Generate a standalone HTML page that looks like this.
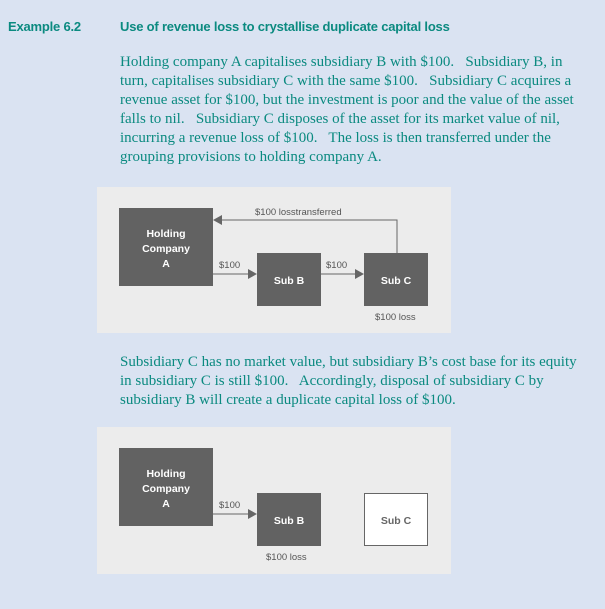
<!DOCTYPE html>
<html><head><meta charset="utf-8"><style>
html,body{margin:0;padding:0;}
body{width:605px;height:609px;background:#dae3f2;position:relative;overflow:hidden;}
.t{position:absolute;color:#0b8a80;}
.h{font-family:"Liberation Sans",sans-serif;font-weight:bold;font-size:13px;letter-spacing:-0.2px;}
.p{font-family:"Liberation Serif",serif;font-size:15px;line-height:19px;left:120px;width:480px;white-space:nowrap;}
svg{position:absolute;left:0;top:0;}
</style></head><body>
<div class="t h" style="left:8px;top:19px;">Example 6.2</div>
<div class="t h" style="left:120px;top:19px;">Use of revenue loss to crystallise duplicate capital loss</div>
<div class="t p" style="top:53px;">Holding company A capitalises subsidiary B with $100.&nbsp;&nbsp; Subsidiary B, in<br>turn, capitalises subsidiary C with the same $100.&nbsp;&nbsp; Subsidiary C acquires a<br>revenue asset for $100, but the investment is poor and the value of the asset<br>falls to nil.&nbsp;&nbsp; Subsidiary C disposes of the asset for its market value of nil,<br>incurring a revenue loss of $100.&nbsp;&nbsp; The loss is then transferred under the<br>grouping provisions to holding company A.</div>
<div class="t p" style="top:353px;">Subsidiary C has no market value, but subsidiary B’s cost base for its equity<br>in subsidiary C is still $100.&nbsp;&nbsp; Accordingly, disposal of subsidiary C by<br>subsidiary B will create a duplicate capital loss of $100.</div>
<svg width="605" height="609" font-family="Liberation Sans, sans-serif" font-size="10">
<rect x="97" y="187" width="354" height="146" fill="#ececec"/>
<rect x="119" y="208" width="94" height="78" fill="#626262"/>
<rect x="257" y="253" width="64" height="53" fill="#626262"/>
<rect x="364" y="253" width="64" height="53" fill="#626262"/>
<g fill="#fff" font-weight="bold" text-anchor="middle" font-size="10.5">
<text x="166" y="237">Holding</text><text x="166" y="252">Company</text><text x="166" y="267">A</text>
<text x="289" y="284">Sub B</text><text x="396" y="284">Sub C</text>
</g>
<g stroke="#666" stroke-width="1" fill="none">
<line x1="213" y1="274" x2="250" y2="274"/>
<line x1="321" y1="274" x2="357" y2="274"/>
<polyline points="397,253 397,220 221,220"/>
</g>
<g fill="#666">
<polygon points="257,274 248,269 248,279"/>
<polygon points="364,274 355,269 355,279"/>
<polygon points="213,220 222,215 222,225"/>
</g>
<g fill="#555" font-size="9.5">
<text x="255" y="215">$100 losstransferred</text>
<text x="219" y="268">$100</text>
<text x="326" y="268">$100</text>
<text x="375" y="320">$100 loss</text>
</g>
<rect x="97" y="427" width="354" height="147" fill="#ececec"/>
<rect x="119" y="448" width="94" height="78" fill="#626262"/>
<rect x="257" y="493" width="64" height="53" fill="#626262"/>
<rect x="364.5" y="493.5" width="63" height="52" fill="#fff" stroke="#666"/>
<g fill="#fff" font-weight="bold" text-anchor="middle" font-size="10.5">
<text x="166" y="477">Holding</text><text x="166" y="492">Company</text><text x="166" y="507">A</text>
<text x="289" y="524">Sub B</text>
</g>
<text x="396" y="524" fill="#666" font-weight="bold" text-anchor="middle" font-size="10.5">Sub C</text>
<line x1="213" y1="514" x2="250" y2="514" stroke="#666"/>
<polygon points="257,514 248,509 248,519" fill="#666"/>
<g fill="#555" font-size="9.5">
<text x="219" y="508">$100</text>
<text x="266" y="560">$100 loss</text>
</g>
</svg>
</body></html>
